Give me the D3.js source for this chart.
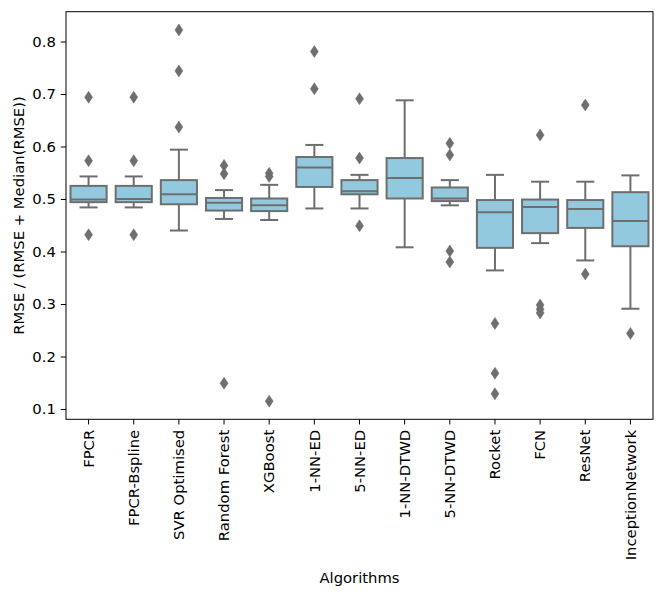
<!DOCTYPE html>
<html><head><meta charset="utf-8">
<script src="https://cdn.jsdelivr.net/npm/d3@7"></script>
<style>body{margin:0;background:#fff}svg{display:block}text{font-family:"DejaVu Sans",sans-serif}</style>
</head><body>
<script>
const categories = ["FPCR","FPCR-Bspline","SVR Optimised","Random Forest","XGBoost","1-NN-ED","5-NN-ED","1-NN-DTWD","5-NN-DTWD","Rocket","FCN","ResNet","InceptionNetwork"];
const whiskerLow  = [0.484,0.484,0.440,0.462,0.460,0.482,0.482,0.408,0.488,0.364,0.416,0.383,0.291];
const q1          = [0.494,0.494,0.490,0.478,0.477,0.523,0.509,0.501,0.496,0.407,0.435,0.445,0.410];
const medians     = [0.499,0.500,0.509,0.493,0.488,0.560,0.515,0.540,0.501,0.475,0.485,0.481,0.458];
const q3          = [0.525,0.525,0.536,0.502,0.501,0.580,0.536,0.578,0.522,0.498,0.499,0.498,0.513];
const whiskerHigh = [0.543,0.543,0.594,0.517,0.527,0.603,0.546,0.688,0.536,0.546,0.533,0.533,0.545];
const outliers = [
  [0.694,0.573,0.432],
  [0.694,0.573,0.432],
  [0.822,0.744,0.637],
  [0.564,0.548,0.149],
  [0.549,0.543,0.115],
  [0.781,0.710],
  [0.691,0.578,0.449],
  [],
  [0.606,0.584,0.401,0.380],
  [0.263,0.168,0.129],
  [0.622,0.298,0.290,0.283],
  [0.679,0.357],
  [0.244]
];
const yTicks = [0.1,0.2,0.3,0.4,0.5,0.6,0.7,0.8];

const W = 664, H = 595;
const m = {left:66, right:653, top:11.7, bottom:419.3};
const FS = 14.8;
const svg = d3.select("body").append("svg").attr("width",W).attr("height",H);

const x = d3.scaleBand().domain(categories).range([m.left,m.right]).paddingInner(0).paddingOuter(0);
const y = d3.scaleLinear().domain([0.0804,0.8568]).range([m.bottom,m.top]);

const fill = "#92c9df", stroke = "#6e6e6e";
const bw = x.bandwidth()*0.8, cw = bw*0.5;

const g = svg.append("g");
categories.forEach((c,i)=>{
  const cx = x(c)+x.bandwidth()/2;
  const gg = g.append("g");
  gg.append("line").attr("x1",cx).attr("x2",cx).attr("y1",y(q3[i])).attr("y2",y(whiskerHigh[i])).attr("stroke",stroke).attr("stroke-width",2);
  gg.append("line").attr("x1",cx).attr("x2",cx).attr("y1",y(q1[i])).attr("y2",y(whiskerLow[i])).attr("stroke",stroke).attr("stroke-width",2);
  gg.append("line").attr("x1",cx-cw/2).attr("x2",cx+cw/2).attr("y1",y(whiskerHigh[i])).attr("y2",y(whiskerHigh[i])).attr("stroke",stroke).attr("stroke-width",2);
  gg.append("line").attr("x1",cx-cw/2).attr("x2",cx+cw/2).attr("y1",y(whiskerLow[i])).attr("y2",y(whiskerLow[i])).attr("stroke",stroke).attr("stroke-width",2);
  gg.append("rect").attr("x",cx-bw/2).attr("width",bw).attr("y",y(q3[i])).attr("height",y(q1[i])-y(q3[i]))
    .attr("fill",fill).attr("stroke",stroke).attr("stroke-width",2);
  gg.append("line").attr("x1",cx-bw/2).attr("x2",cx+bw/2).attr("y1",y(medians[i])).attr("y2",y(medians[i])).attr("stroke",stroke).attr("stroke-width",2);
  outliers[i].forEach(v=>{
    const py = y(v);
    gg.append("path").attr("d",`M${cx},${py-6}L${cx+4},${py}L${cx},${py+6}L${cx-4},${py}Z`).attr("fill",stroke).attr("stroke",stroke).attr("stroke-width",0.5);
  });
});

// axes
const yAxis = svg.append("g").attr("transform",`translate(${m.left},0)`)
  .call(d3.axisLeft(y).tickValues(yTicks).tickFormat(d3.format(".1f")).tickSize(5.2).tickPadding(5));
const xAxis = svg.append("g").attr("transform",`translate(0,${m.bottom})`)
  .call(d3.axisBottom(x).tickSize(5.2).tickPadding(5));
[yAxis,xAxis].forEach(a=>{
  a.select(".domain").remove();
  a.selectAll(".tick line").attr("stroke","#000").attr("stroke-width",1);
  a.selectAll("text").attr("font-size",FS).attr("fill","#000").attr("font-family","DejaVu Sans, sans-serif");
});
xAxis.selectAll("text").attr("transform","rotate(-90)").attr("text-anchor","end")
  .attr("x",-10.5).attr("y",0).attr("dy","0.35em");

svg.append("rect").attr("x",m.left).attr("y",m.top).attr("width",m.right-m.left).attr("height",m.bottom-m.top)
  .attr("fill","none").attr("stroke","#000").attr("stroke-width",1);

svg.append("text").attr("x",(m.left+m.right)/2).attr("y",583).attr("text-anchor","middle")
  .attr("font-size",FS).text("Algorithms");
svg.append("text").attr("transform",`translate(23.5,${(m.top+m.bottom)/2}) rotate(-90)`).attr("text-anchor","middle")
  .attr("font-size",FS).text("RMSE / (RMSE + Median(RMSE))");
</script>
</body></html>
